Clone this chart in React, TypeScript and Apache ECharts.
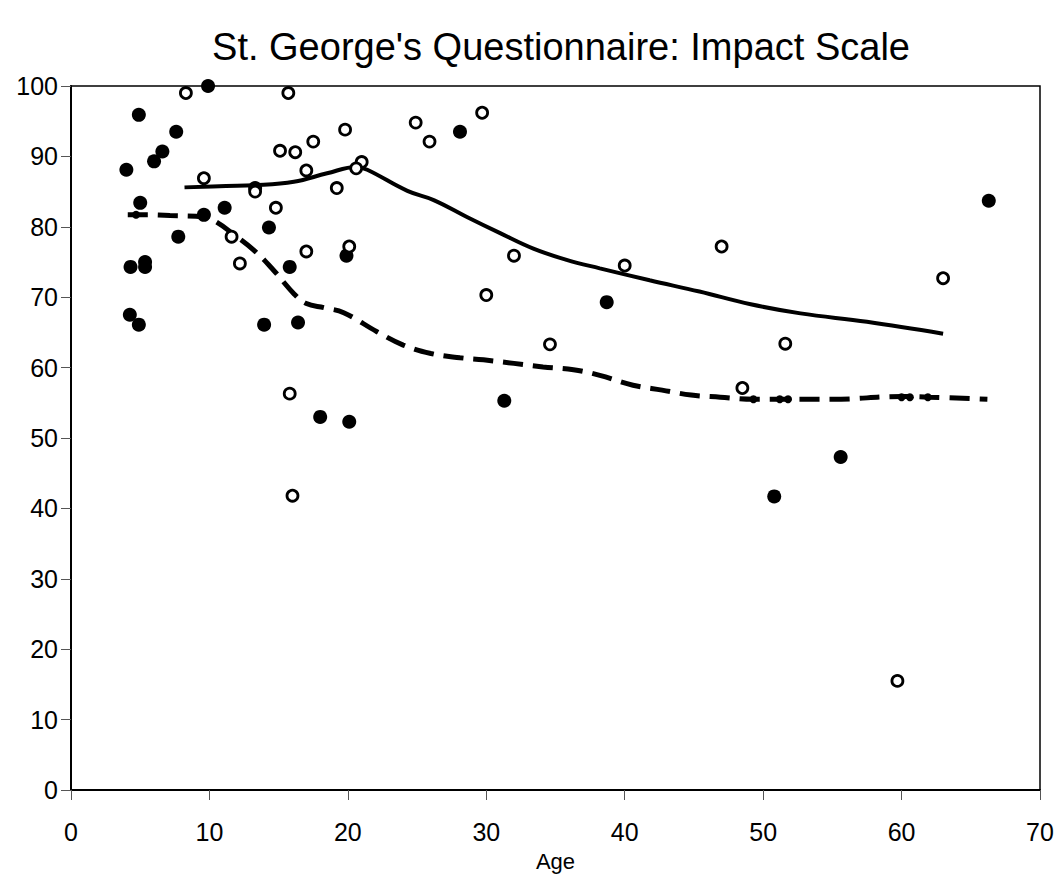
import React, { useEffect, useRef } from "react";
import * as echarts from "echarts";

const titleText = "St. George's Questionnaire: Impact Scale";
const xAxisName = "Age";

// Open-circle group (age, score)
const openPoints: [number, number][] = [
  [8.3, 99.0], [15.7, 99.0], [9.6, 86.9], [15.1, 90.8], [16.2, 90.6], [17.5, 92.1],
  [19.8, 93.8], [17.0, 88.0], [21.0, 89.2], [20.6, 88.3], [19.2, 85.5], [13.3, 85.0],
  [14.8, 82.7], [11.6, 78.6], [12.2, 74.8], [17.0, 76.5], [20.1, 77.2], [24.9, 94.8],
  [25.9, 92.1], [29.7, 96.2], [32.0, 75.9], [30.0, 70.3], [40.0, 74.5], [15.8, 56.3],
  [16.0, 41.8], [34.6, 63.3], [47.0, 77.2], [48.5, 57.1], [51.6, 63.4], [63.0, 72.7],
  [59.7, 15.5],
];

// Filled-circle group (age, score)
const filledPoints: [number, number][] = [
  [9.9, 100.0], [4.9, 95.9], [7.6, 93.5], [6.6, 90.7], [6.0, 89.3], [4.0, 88.1],
  [5.0, 83.4], [13.3, 85.5], [11.1, 82.7], [9.6, 81.7], [7.75, 78.6], [14.3, 79.9],
  [15.8, 74.3], [19.9, 75.9], [4.3, 74.3], [5.35, 75.0], [5.35, 74.3], [4.25, 67.5],
  [4.9, 66.1], [13.95, 66.1], [16.4, 66.4], [18.0, 53.0], [20.1, 52.3], [28.1, 93.5],
  [31.3, 55.3], [38.7, 69.3], [50.8, 41.7], [55.6, 47.3], [66.3, 83.7],
];

// Small filled points lying on the dashed curve
const smallPoints: [number, number][] = [
  [4.7, 81.7], [49.3, 55.5], [51.2, 55.5], [51.8, 55.5], [60.0, 55.8], [60.6, 55.8], [61.9, 55.8],
];

// Smoothed trend for open-circle group (solid)
const solidCurve: [number, number][] = [
  [8.2, 85.6], [11.2, 85.8], [13.2, 85.9], [16.1, 86.4], [18.5, 87.6], [20.6, 88.5],
  [21.4, 88.1], [24.3, 85.1], [26.2, 83.8], [28.6, 81.4], [31.0, 79.1], [33.4, 76.9],
  [35.8, 75.3], [38.2, 74.1], [41.8, 72.4], [45.4, 70.8], [49.1, 69.0], [52.7, 67.7],
  [57.5, 66.5], [63.0, 64.8],
];

// Smoothed trend for filled-circle group (dashed)
const dashedCurve: [number, number][] = [
  [4.1, 81.7], [5.5, 81.7], [7.15, 81.6], [9.6, 81.4], [10.5, 80.7], [11.7, 79.0],
  [13.2, 76.7], [14.6, 73.9], [16.1, 70.5], [17.0, 69.1], [18.3, 68.5], [19.7, 67.8],
  [22.1, 65.1], [24.0, 63.2], [26.0, 62.0], [28.1, 61.4], [29.8, 61.1], [32.0, 60.6],
  [34.1, 60.1], [36.3, 59.7], [38.2, 58.9], [40.6, 57.5], [42.7, 56.8], [44.8, 56.1],
  [46.9, 55.8], [49.3, 55.5], [55.0, 55.5], [60.0, 55.9], [62.0, 55.8], [66.2, 55.5],
];

export default function App() {
  const ref = useRef<HTMLDivElement>(null);
  useEffect(() => {
    if (!ref.current) return;
    const chart = echarts.init(ref.current, undefined, { renderer: "svg" });
    const font = "'Liberation Sans', Arial, Helvetica, sans-serif";
    chart.setOption({
      animation: false,
      backgroundColor: "#ffffff",
      title: {
        text: titleText,
        left: 556,
        textAlign: "center",
        top: 23,
        textStyle: { fontFamily: font, fontSize: 38, fontWeight: "normal", color: "#000" },
      },
      grid: {
        left: 71,
        right: 17,
        top: 86,
        bottom: 88,
        show: true,
        borderColor: "#000",
        borderWidth: 1.5,
        backgroundColor: "transparent",
      },
      xAxis: {
        type: "value",
        min: 0,
        max: 70,
        interval: 10,
        name: xAxisName,
        nameLocation: "middle",
        nameGap: 60,
        nameTextStyle: { fontFamily: font, fontSize: 22, color: "#000" },
        axisLine: { show: true, onZero: false, lineStyle: { color: "#000", width: 2 } },
        axisTick: { show: true, length: 10, lineStyle: { color: "#555", width: 1 } },
        axisLabel: { fontFamily: font, fontSize: 25, color: "#000", margin: 29 },
        splitLine: { show: false },
      },
      yAxis: {
        type: "value",
        min: 0,
        max: 100,
        interval: 10,
        axisLine: { show: true, onZero: false, lineStyle: { color: "#000", width: 2 } },
        axisTick: { show: true, length: 10, lineStyle: { color: "#555", width: 1 } },
        axisLabel: { fontFamily: font, fontSize: 25, color: "#000", margin: 13 },
        splitLine: { show: false },
      },
      series: [
        {
          type: "line",
          data: solidCurve,
          smooth: 0.4,
          showSymbol: false,
          symbol: "none",
          lineStyle: { color: "#000", width: 4 },
          z: 3,
        },
        {
          type: "line",
          data: dashedCurve,
          smooth: 0.4,
          showSymbol: false,
          symbol: "none",
          lineStyle: { color: "#000", width: 5, type: [20, 10] },
          z: 3,
        },
        {
          type: "scatter",
          data: smallPoints,
          symbol: "circle",
          symbolSize: 8,
          itemStyle: { color: "#000", opacity: 1 },
          z: 4,
        },
        {
          type: "scatter",
          data: filledPoints,
          symbol: "circle",
          symbolSize: 14,
          itemStyle: { color: "#000", opacity: 1 },
          z: 4,
        },
        {
          type: "scatter",
          data: openPoints,
          symbol: "circle",
          symbolSize: 11,
          itemStyle: { color: "#fff", borderColor: "#000", borderWidth: 2.8, opacity: 1 },
          z: 5,
        },
      ],
    });
    return () => chart.dispose();
  }, []);
  return (
    <div
      ref={ref}
      style={{ position: "fixed", left: 0, top: 0, width: 1057, height: 878, background: "#fff" }}
    />
  );
}
